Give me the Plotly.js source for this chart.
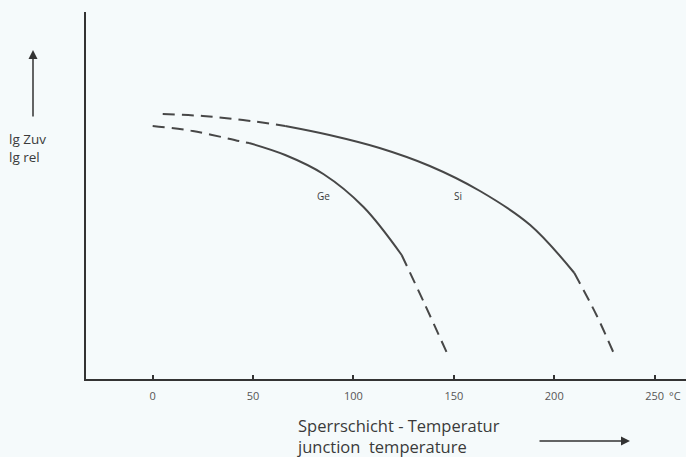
<!DOCTYPE html>
<html>
<head>
<meta charset="utf-8">
<script src="https://cdn.plot.ly/plotly-3.0.1.min.js"></script>
<style>
  html, body { margin: 0; padding: 0; background: #f5fafb; }
  #chart { width: 686px; height: 457px; }
</style>
</head>
<body>
<div id="chart"></div>
<script>
// Junction temperature (°C) and relative lg value (arbitrary units)
const siTemp   = [5, 25, 45, 66, 88, 113, 138, 163, 188, 210, 221, 230];
const siValue  = [265, 263, 259, 253, 244, 231, 213, 188, 154, 106, 64, 24];
const geTemp   = [0, 20, 43, 48, 66, 85, 105, 124, 135, 147];
const geValue  = [253, 248, 238, 236, 224, 205, 172, 124, 77, 24];

// indices where measured (solid) part starts / ends
const siSolid = [3, 9];
const geSolid = [3, 7];

const tickVals = [0, 50, 100, 150, 200, 250];
const tickText = ["0", "50", "100", "150", "200", "250"];

const lineColor = "#474747";

function segs(xs, ys, solid) {
  const out = [];
  const parts = [
    [0, solid[0], "dash"],
    [solid[0], solid[1], "solid"],
    [solid[1], xs.length - 1, "dash"]
  ];
  parts.forEach(p => {
    out.push({
      x: xs.slice(p[0], p[1] + 1),
      y: ys.slice(p[0], p[1] + 1),
      mode: "lines",
      type: "scatter",
      line: { color: lineColor, width: 2, shape: "spline", smoothing: 1.0,
              dash: p[2] === "dash" ? "12px,7px" : "solid" },
      hoverinfo: "skip",
      showlegend: false
    });
  });
  return out;
}

const data = [].concat(segs(siTemp, siValue, siSolid), segs(geTemp, geValue, geSolid));

const fam = "Open Sans, DejaVu Sans, sans-serif";
const txtFont = { family: fam, color: "#3a3a3a" };
const px = v => (v - 86) / 600;
const py = v => (379 - v) / 367;

function note(x, y, text, size, color) {
  return { xref: "paper", yref: "paper", x: px(x), y: py(y), xanchor: "left", yanchor: "middle",
           align: "left", text: text, showarrow: false,
           font: { family: fam, size: size, color: color || "#3a3a3a" } };
}

const layout = {
  width: 686, height: 457,
  margin: { l: 86, r: 0, t: 12, b: 78, pad: 0 },
  paper_bgcolor: "#f5fafb",
  plot_bgcolor: "#f5fafb",
  showlegend: false,
  xaxis: {
    range: [-33.2, 265.6],
    showgrid: false, zeroline: false,
    showline: true, linecolor: "#333", linewidth: 2,
    ticks: "inside", ticklen: 4, tickwidth: 2, tickcolor: "#333",
    tickvals: tickVals, ticktext: tickText,
    tickfont: { family: fam, size: 11, color: "#555" },
    ticklabelstandoff: 6
  },
  yaxis: {
    range: [0, 367],
    showgrid: false, zeroline: false,
    showline: true, linecolor: "#333", linewidth: 2,
    showticklabels: false, ticks: ""
  },
  annotations: [
    { xref: "x", yref: "y", x: 85, y: 183, text: "Ge", showarrow: false,
      xanchor: "center", yanchor: "middle", font: Object.assign({ size: 10 }, txtFont) },
    { xref: "x", yref: "y", x: 152, y: 183, text: "Si", showarrow: false,
      xanchor: "center", yanchor: "middle", font: Object.assign({ size: 10 }, txtFont) },
    note(667, 395, "°C", 11, "#555"),
    note(7, 148, "lg Zuv<br>lg rel", 13.5),
    { xref: "paper", yref: "paper", x: px(33), y: py(50),
      text: "", showarrow: true, ax: 0, ay: 68, arrowhead: 2, arrowsize: 1.2,
      arrowwidth: 1.5, arrowcolor: "#333" },
    note(295, 436, "Sperrschicht - Temperatur<br>junction  temperature", 16.5),
    { xref: "paper", yref: "paper", x: px(630), y: py(441),
      text: "", showarrow: true, ax: -92, ay: 0, arrowhead: 2, arrowsize: 1.2,
      arrowwidth: 1.5, arrowcolor: "#333" }
  ]
};

Plotly.newPlot("chart", data, layout, { displayModeBar: false, staticPlot: true });
</script>
</body>
</html>
